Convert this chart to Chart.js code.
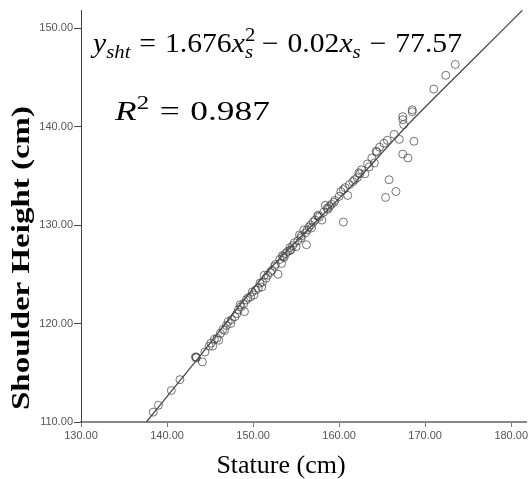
<!DOCTYPE html>
<html>
<head>
<meta charset="utf-8">
<script src="https://cdn.jsdelivr.net/npm/chart.js@4.4.1/dist/chart.umd.min.js"></script>
<style>
  html, body { margin: 0; padding: 0; background: #fff; }
</style>
</head>
<body>
<canvas id="chart" width="531" height="479"></canvas>
<script>
const stature = [
  138.4, 139.0, 140.5, 141.5, 143.4, 143.3, 143.4, 144.1, 144.4, 144.9,
  145.1, 145.3, 145.5, 145.8, 146.0, 146.2, 146.5, 146.7, 146.9, 147.1,
  147.4, 147.5, 147.9, 148.1, 148.3, 148.5, 148.6, 148.9, 149.0, 149.2,
  149.4, 149.7, 149.9, 150.1, 150.3, 150.6, 150.8, 151.0, 151.1, 151.3,
  151.5, 151.7, 152.0, 152.2, 152.5, 152.6, 152.9, 153.1, 153.3, 153.4,
  153.5, 153.6, 153.8, 154.0, 154.3, 154.4, 154.3, 154.6, 154.8, 155.0,
  155.2, 155.4, 155.6, 155.6, 155.9, 156.1, 156.2, 156.3, 156.5, 156.7,
  156.8, 157.0, 157.2, 157.5, 157.6, 157.7, 158.0, 158.2, 158.4, 158.6,
  158.7, 158.9, 159.1, 159.4, 159.5, 160.0, 160.2, 160.5, 160.5, 160.7,
  161.0, 161.2, 161.6, 161.8, 162.1, 162.4, 162.3, 162.6, 163.0, 163.3,
  163.5, 163.8, 164.1, 164.4, 164.3, 164.7, 165.2, 165.4, 165.6, 165.8,
  166.4, 166.6, 167.0, 167.4, 167.4, 167.4, 167.5, 168.0, 168.5, 168.5,
  168.7, 171.0, 172.4, 173.5
];
const shoulder = [
  111.0, 111.7, 113.2, 114.3, 116.5, 116.6, 116.6, 116.1, 117.1, 117.7,
  118.0, 117.7, 118.4, 118.5, 118.3, 119.0, 119.4, 119.3, 119.8, 120.2,
  120.0, 120.4, 120.7, 121.0, 121.4, 121.9, 121.7, 122.0, 121.2, 122.4,
  122.6, 122.7, 123.2, 122.9, 123.4, 123.6, 124.1, 123.7, 124.2, 124.9,
  124.6, 124.9, 125.2, 125.4, 125.8, 126.0, 125.0, 126.5, 126.1, 126.9,
  126.8, 126.7, 127.1, 127.3, 127.7, 127.5, 127.4, 127.9, 128.2, 127.8,
  128.4, 129.0, 128.9, 128.7, 129.5, 129.2, 128.0, 129.5, 129.8, 130.0,
  129.7, 130.3, 130.5, 130.9, 131.0, 130.8, 130.5, 131.3, 132.0, 131.7,
  131.6, 131.9, 132.1, 132.3, 132.5, 132.9, 133.4, 133.6, 130.3, 133.8,
  133.0, 134.1, 134.4, 134.6, 134.8, 135.2, 135.3, 135.6, 135.2, 136.2,
  135.9, 136.8, 136.3, 137.4, 137.5, 137.9, 138.3, 132.8, 138.6, 134.6,
  139.2, 133.4, 138.7, 140.7, 141.0, 137.2, 140.2, 136.8, 141.7, 141.5,
  138.5, 143.8, 145.2, 146.3
];

// fitted curve, read at a few places along the drawn line
const fitStature = [137.6, 144.0, 151.3, 155.2, 161.7, 167.8, 175.5, 181.3];
const fitShoulder = [110.0, 116.9, 124.9, 128.5, 134.2, 140.0, 146.75, 151.8];

const xTicks = [130, 140, 150, 160, 170, 180];
const yTicks = [110, 120, 130, 140, 150];

const xTitle = "Stature (cm)";
const yTitle = "Shoulder Height (cm)";

// equation pieces: italic / subscript / superscript, sp = gap around operators
const eqRuns = [
  { t: "y", it: true },
  { t: "sht", it: true, sub: true },
  { sp: true }, { t: "=" }, { sp: true },
  { t: "1.676" },
  { t: "x", it: true },
  { t: "2", sup: true, stack: true },
  { t: "s", it: true, sub: true },
  { sp: true }, { t: "−" }, { sp: true },
  { t: "0.02" },
  { t: "x", it: true },
  { t: "s", it: true, sub: true },
  { sp: true }, { t: "−" }, { sp: true },
  { t: "77.57" }
];
const r2Runs = [
  { t: "R", it: true },
  { t: "2", sup: true },
  { sp: true }, { t: "=" }, { sp: true },
  { t: "0.987" }
];

function drawRuns(ctx, runs, size, gap, dry) {
  let cx = 0;
  runs.forEach(function (r) {
    if (r.sp) { cx += gap; return; }
    const small = r.sub || r.sup;
    const fs = small ? size * 0.7 : size;
    ctx.font = (r.it ? "italic " : "") + fs + 'px "Liberation Serif"';
    const dy = r.sub ? size * 0.22 : r.sup ? -size * 0.42 : 0;
    if (!dry) ctx.fillText(r.t, cx, dy);
    if (!r.stack) cx += ctx.measureText(r.t).width;
  });
  return cx;
}

// draw at (x, y), widening the glyphs so the run fills `width`
function fitRuns(ctx, runs, x, y, size, width) {
  const gap = size * 0.3;
  const w = drawRuns(ctx, runs, size, gap, true);
  ctx.save();
  ctx.translate(x, y);
  ctx.scale(width / w, 1);
  drawRuns(ctx, runs, size, gap, false);
  ctx.restore();
}

const textPlugin = {
  id: "texts",
  afterDraw(chart) {
    const ctx = chart.ctx;
    ctx.save();
    ctx.fillStyle = "#000";
    ctx.textAlign = "left";
    ctx.textBaseline = "alphabetic";
    fitRuns(ctx, eqRuns, 93, 52, 27, 369);
    fitRuns(ctx, r2Runs, 115, 120, 27, 155);

    // x axis title
    ctx.font = '26px "Liberation Serif"';
    ctx.textAlign = "center";
    ctx.fillText(xTitle, 281, 473);

    // y axis title, stretched along its length as in the original
    ctx.font = 'bold 26px "Liberation Serif"';
    const len = ctx.measureText(yTitle).width;
    ctx.translate(29, 106);
    ctx.rotate(-Math.PI / 2);
    ctx.scale(304 / len, 1);
    ctx.textAlign = "right";
    ctx.fillText(yTitle, 0, 0);
    ctx.restore();
  }
};

const points = stature.map((s, i) => ({ x: s, y: shoulder[i] }));
const fit = fitStature.map((s, i) => ({ x: s, y: fitShoulder[i] }));

const tickFont = { family: "Liberation Sans", size: 11 };

new Chart(document.getElementById("chart").getContext("2d"), {
  type: "scatter",
  data: {
    datasets: [
      {
        data: fit,
        showLine: true,
        borderColor: "#4a4a4a",
        borderWidth: 1.3,
        pointRadius: 0,
        cubicInterpolationMode: "monotone",
        fill: false
      },
      {
        data: points,
        pointStyle: "circle",
        pointRadius: 4,
        pointBorderWidth: 1,
        pointBorderColor: "rgba(60,60,60,0.7)",
        pointBackgroundColor: "rgba(0,0,0,0)"
      }
    ]
  },
  options: {
    responsive: false,
    animation: false,
    devicePixelRatio: 1,
    layout: { padding: { top: 10, right: 0, left: 0, bottom: 0 } },
    plugins: {
      legend: { display: false },
      tooltip: { enabled: false }
    },
    scales: {
      x: {
        type: "linear",
        min: 130,
        max: 181.72,
        afterBuildTicks: (s) => { s.ticks = xTicks.map((v) => ({ value: v })); },
        afterFit: (s) => { s.height = 57; },
        ticks: {
          callback: (v) => v.toFixed(2),
          font: tickFont,
          color: "#555",
          padding: 2,
          maxRotation: 0,
          autoSkip: false
        },
        grid: { drawOnChartArea: false, drawTicks: true, tickLength: 5, tickColor: "#777" },
        border: { color: "#888", width: 2 }
      },
      y: {
        type: "linear",
        min: 110,
        max: 151.83,
        afterBuildTicks: (s) => { s.ticks = yTicks.map((v) => ({ value: v })); },
        afterFit: (s) => { s.width = 81; },
        ticks: {
          callback: (v) => v.toFixed(2),
          font: tickFont,
          color: "#555",
          padding: 1,
          autoSkip: false
        },
        grid: { drawOnChartArea: false, drawTicks: true, tickLength: 7, tickColor: "#444" },
        border: { color: "#444", width: 1 }
      }
    }
  },
  plugins: [textPlugin]
});
</script>
</body>
</html>
